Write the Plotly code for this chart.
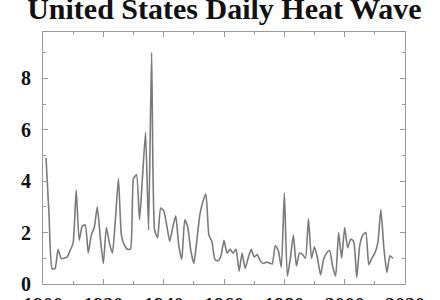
import plotly.graph_objects as go

years = list(range(1901, 2017))
values = [
    4.9, 2.7, 0.6, 0.6, 1.35, 1.0, 1.0, 1.05, 1.3, 1.6,
    3.65, 1.7, 2.25, 2.3, 1.2, 1.9, 2.2, 3.0, 1.8, 0.8,
    2.2, 1.6, 1.2, 2.5, 4.1, 1.9, 1.5, 1.35, 1.35, 4.1,
    4.25, 2.5, 4.2, 5.9, 2.1, 9.0, 2.1, 1.8, 2.95, 2.85,
    2.3, 1.65, 2.2, 2.65, 1.5, 0.95, 2.5, 2.2, 1.3, 0.8,
    1.7, 2.7, 3.2, 3.5, 1.9, 1.65, 0.95, 0.9, 1.1, 1.7,
    1.2, 1.35, 1.2, 1.35, 0.5, 1.2, 0.6, 1.0, 1.35, 1.05,
    1.15, 0.9, 0.8, 0.85, 0.82, 0.78, 1.5, 1.3, 0.65, 3.55,
    0.3, 1.0, 1.9, 0.7, 1.2, 1.15, 1.0, 2.55, 1.0, 1.45,
    1.0, 0.35, 0.95, 1.2, 1.3, 0.7, 0.3, 2.0, 1.0, 2.2,
    1.4, 1.75, 1.65, 0.25, 1.5, 1.9, 2.0, 0.75, 1.0, 1.2,
    1.6, 2.9, 1.4, 0.45, 1.1, 1.0,
]
x_ticks = [1900, 1920, 1940, 1960, 1980, 2000, 2020]
y_ticks = [0, 2, 4, 6, 8]
title_text = "United States Daily Heat Wave"

fig = go.Figure()
fig.add_trace(go.Scatter(
    x=years, y=values, mode="lines",
    line=dict(color="#7a7a7a", width=1.6, shape="spline", smoothing=0.5),
    showlegend=False, hoverinfo="skip",
))

tick_font = dict(family="Liberation Serif", size=20, color="#111", weight="bold")
axis_common = dict(
    showgrid=False, zeroline=False, showline=True, linecolor="#999", linewidth=1.2,
    mirror="ticks", ticks="inside", tickcolor="#999", tickwidth=1, ticklen=5,
    tickfont=tick_font, automargin=False, ticklabeloverflow="allow",
)
fig.update_xaxes(range=[1900, 2020], tickvals=x_ticks, ticklabelstandoff=3,
                 minor=dict(dtick=10, ticks="inside", ticklen=3, tickcolor="#999"),
                 **axis_common)
fig.update_yaxes(range=[0, 9.8], tickvals=y_ticks, ticklabelstandoff=7,
                 minor=dict(dtick=1, ticks="inside", ticklen=3, tickcolor="#999"),
                 **axis_common)
fig.update_layout(
    width=440, height=300,
    margin=dict(l=43, r=35, t=32, b=16),
    paper_bgcolor="white", plot_bgcolor="white",
    title=dict(text="<b>" + title_text + "</b>", x=0.51, xanchor="center",
               xref="container", yref="container", y=1 - 19 / 300, yanchor="bottom",
               font=dict(family="Liberation Serif", size=30, color="#111")),
)
fig.write_html("out.html")
